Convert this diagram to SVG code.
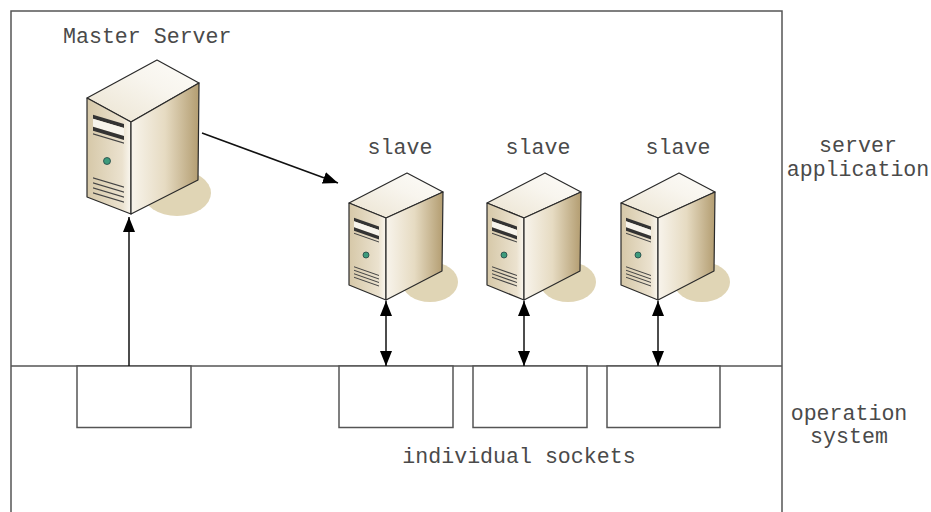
<svg xmlns="http://www.w3.org/2000/svg" xmlns:xlink="http://www.w3.org/1999/xlink" width="931" height="512" viewBox="0 0 931 512">
<style>
.t{font-family:"Liberation Mono","Courier New",monospace;font-size:21.6px;fill:#4a4a4a}
.frame{fill:none;stroke:#555;stroke-width:1.5}
.sock{fill:#fff;stroke:#555;stroke-width:1.5}
.edge{stroke:#2a2a2a;stroke-width:1.2;stroke-linejoin:round}
.top{fill:url(#gTop)}
.left{fill:url(#gLeft)}
.right{fill:url(#gRight)}
.shadow{fill:#e0d5b5}
.dark{fill:#333}
.light{fill:#f7f4ec}
.vent{stroke:#444;stroke-width:1.2}
.led{fill:#3d9b7c;stroke:#244;stroke-width:0.8}
.conn{stroke:#111;stroke-width:1.5;fill:none}
</style>
<defs>
<linearGradient id="gTop" x1="0" y1="1" x2="1" y2="0">
<stop offset="0" stop-color="#ebe3d0"/>
<stop offset="0.6" stop-color="#f8f5ee"/>
<stop offset="1" stop-color="#fdfcf9"/>
</linearGradient>
<linearGradient id="gLeft" x1="0" y1="0" x2="1" y2="0">
<stop offset="0" stop-color="#d6c8a8"/>
<stop offset="0.8" stop-color="#ebe2cf"/>
<stop offset="1" stop-color="#faf7f0"/>
</linearGradient>
<linearGradient id="gRight" x1="0" y1="0" x2="1" y2="0">
<stop offset="0" stop-color="#f8f4ec"/>
<stop offset="0.5" stop-color="#e6dbc2"/>
<stop offset="1" stop-color="#b39d71"/>
</linearGradient>
<marker id="ah" viewBox="0 0 15 12" markerWidth="15" markerHeight="12" markerUnits="userSpaceOnUse" refX="15" refY="6" orient="auto-start-reverse">
<path d="M0,0 L15,6 L0,12 Z" fill="#000"/>
</marker>
<g id="slaveShape">
<ellipse class="shadow" cx="44" cy="-18" rx="28" ry="20"/>
<path class="top edge" d="M0,-82 L-37,-97 L21,-127 L57,-108 Z"/>
<path class="left edge" d="M-37,-97 L0,-82 L0,0 L-37,-15 Z"/>
<path class="right edge" d="M0,-82 L57,-108 L56,-29 L0,0 Z"/>
<g transform="matrix(1,0.35,0,1,-37,-97)">
<rect class="dark" x="5" y="13" width="25" height="3.5"/>
<rect class="light" x="5" y="16.5" width="25" height="6"/>
<rect class="dark" x="5" y="22.5" width="25" height="3.5"/>
<line class="vent" x1="5" y1="28.5" x2="30" y2="28.5"/>
<line class="vent" x1="5" y1="62" x2="30" y2="62"/>
<line class="vent" x1="5" y1="65.5" x2="30" y2="65.5"/>
<line class="vent" x1="5" y1="69" x2="30" y2="69"/>
<line class="vent" x1="5" y1="72.5" x2="30" y2="72.5"/>
</g>
<circle class="led" cx="-20" cy="-45" r="3"/>
</g>
</defs>
<rect width="931" height="512" fill="#fff"/>
<g id="layers">
<rect class="frame" x="11" y="11" width="771" height="530"/>
<line class="frame" x1="11" y1="366" x2="782" y2="366"/>
<text class="t" x="858" y="152" text-anchor="middle">server</text>
<text class="t" x="858" y="176" text-anchor="middle">application</text>
<text class="t" x="849" y="420" text-anchor="middle">operation</text>
<text class="t" x="849" y="443" text-anchor="middle">system</text>
</g>
<g id="master">
<g transform="translate(131,214)">
<ellipse class="shadow" cx="46" cy="-21" rx="34" ry="23"/>
<path class="top edge" d="M0,-92 L-44,-116 L26,-154 L68,-131 Z"/>
<path class="left edge" d="M-44,-116 L0,-92 L0,0 L-44,-17 Z"/>
<path class="right edge" d="M0,-92 L68,-131 L67,-34 L0,0 Z"/>
<g transform="matrix(1,0.3,0,1,-44,-116)">
<rect class="dark" x="6" y="15" width="31" height="4"/>
<rect class="light" x="6" y="19" width="31" height="8"/>
<rect class="dark" x="6" y="27" width="31" height="4"/>
<line class="vent" x1="6" y1="34" x2="37" y2="34"/>
<line class="vent" x1="6" y1="78" x2="37" y2="78"/>
<line class="vent" x1="6" y1="83" x2="37" y2="83"/>
<line class="vent" x1="6" y1="88" x2="37" y2="88"/>
<line class="vent" x1="6" y1="93" x2="37" y2="93"/>
</g>
<circle class="led" cx="-24" cy="-53" r="3.5"/>
</g>
<text class="t" x="63" y="43">Master Server</text>
</g>
<g id="slave1">
<use xlink:href="#slaveShape" transform="translate(386,300)"/>
<text class="t" x="400" y="154" text-anchor="middle">slave</text>
</g>
<g id="slave2">
<use xlink:href="#slaveShape" transform="translate(524,300)"/>
<text class="t" x="538" y="154" text-anchor="middle">slave</text>
</g>
<g id="slave3">
<use xlink:href="#slaveShape" transform="translate(658,300)"/>
<text class="t" x="678" y="154" text-anchor="middle">slave</text>
</g>
<g id="sockets">
<rect class="sock" x="77" y="366" width="114" height="61.5"/>
<rect class="sock" x="339" y="366" width="114" height="61.5"/>
<rect class="sock" x="473" y="366" width="114" height="61.5"/>
<rect class="sock" x="607" y="366" width="113" height="61.5"/>
<text class="t" x="519" y="463" text-anchor="middle">individual sockets</text>
</g>
<g id="connectors">
<line class="conn" x1="129" y1="366" x2="129" y2="217" marker-end="url(#ah)"/>
<line class="conn" x1="202" y1="133" x2="338" y2="183" marker-end="url(#ah)"/>
<line class="conn" x1="386" y1="366" x2="386" y2="301" marker-start="url(#ah)" marker-end="url(#ah)"/>
<line class="conn" x1="524" y1="366" x2="524" y2="301" marker-start="url(#ah)" marker-end="url(#ah)"/>
<line class="conn" x1="658" y1="366" x2="658" y2="301" marker-start="url(#ah)" marker-end="url(#ah)"/>
</g>
</svg>
